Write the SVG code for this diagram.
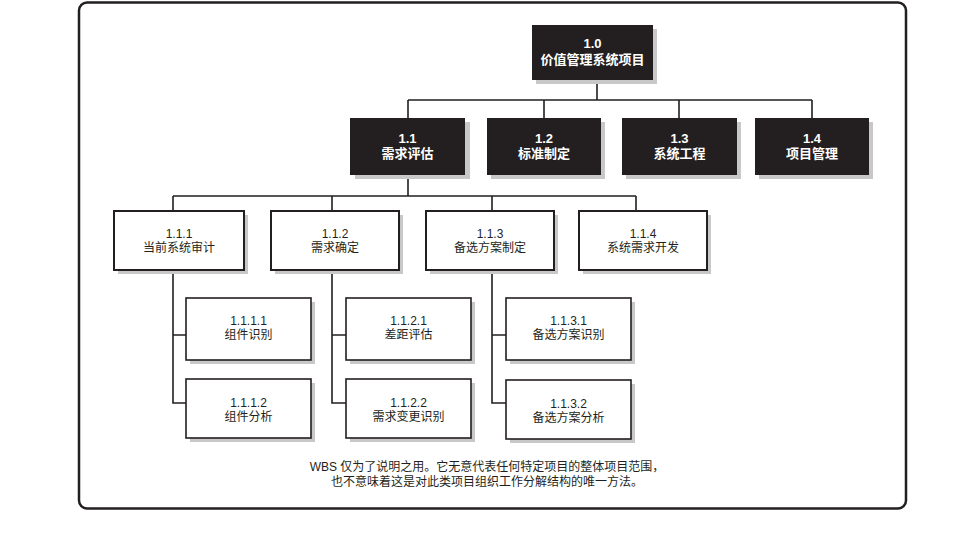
<svg xmlns="http://www.w3.org/2000/svg" width="970" height="541" viewBox="0 0 970 541">
<style>
text{font-family:"Liberation Sans","Noto Sans CJK SC",sans-serif;text-anchor:middle;font-size:12px;fill:#231f20}
.dk rect.b{fill:#231f20}
.dk text{fill:#ffffff;font-weight:bold;font-size:13px}
rect.s{fill:#c8c8c8}
.wt rect.b{fill:#ffffff;stroke:#231f20;stroke-width:2}
.lf rect.b{fill:#ffffff;stroke:#231f20;stroke-width:1.6}
#connectors path{fill:none;stroke:#231f20;stroke-width:1.6}
</style>
<rect x="79" y="2.5" width="827" height="506" rx="8" fill="#ffffff" stroke="#231f20" stroke-width="2.5"/>
<g id="connectors">
<path d="M597 80V100M408 100H812M408 100V118M544 100V118M679 100V118M812 100V118"/>
<path d="M408 175V196M173 196H636M173 196V211M332 196V211M492 196V211M636 196V211"/>
<path d="M173 270V403H186M173 335H186"/>
<path d="M332 270V403H346M332 335H346"/>
<path d="M492 270V403H506M492 335H506"/>
</g>
<g id="n1_0" class="dk"><rect class="s" x="536" y="29" width="121" height="55"/><rect class="b" x="532" y="25" width="121" height="55"/><text x="592.5" y="48">1.0</text><text x="592.5" y="64">价值管理系统项目</text></g>
<g id="n1_1" class="dk"><rect class="s" x="355" y="122" width="115" height="57"/><rect class="b" x="350" y="118" width="115" height="57"/><text x="407.5" y="143">1.1</text><text x="407.5" y="158">需求评估</text></g>
<g id="n1_2" class="dk"><rect class="s" x="491" y="122" width="114" height="57"/><rect class="b" x="487" y="118" width="114" height="57"/><text x="544" y="143">1.2</text><text x="544" y="158">标准制定</text></g>
<g id="n1_3" class="dk"><rect class="s" x="626" y="122" width="115" height="57"/><rect class="b" x="622" y="118" width="115" height="57"/><text x="679.5" y="143">1.3</text><text x="679.5" y="158">系统工程</text></g>
<g id="n1_4" class="dk"><rect class="s" x="759" y="122" width="114" height="57"/><rect class="b" x="755" y="118" width="114" height="57"/><text x="812" y="143">1.4</text><text x="812" y="158">项目管理</text></g>
<g id="n1_1_1" class="wt"><rect class="s" x="118" y="215" width="130" height="59"/><rect class="b" x="114" y="211" width="130" height="59"/><text x="179" y="238">1.1.1</text><text x="179" y="252">当前系统审计</text></g>
<g id="n1_1_2" class="wt"><rect class="s" x="275" y="215" width="128" height="59"/><rect class="b" x="271" y="211" width="128" height="59"/><text x="335" y="238">1.1.2</text><text x="335" y="252">需求确定</text></g>
<g id="n1_1_3" class="wt"><rect class="s" x="430" y="215" width="128" height="59"/><rect class="b" x="426" y="211" width="128" height="59"/><text x="490" y="238">1.1.3</text><text x="490" y="252">备选方案制定</text></g>
<g id="n1_1_4" class="wt"><rect class="s" x="583" y="215" width="128" height="59"/><rect class="b" x="579" y="211" width="128" height="59"/><text x="643" y="238">1.1.4</text><text x="643" y="252">系统需求开发</text></g>
<g id="n1_1_1_1" class="lf"><rect class="s" x="190" y="302" width="125" height="62"/><rect class="b" x="186" y="298" width="125" height="62"/><text x="248.5" y="325">1.1.1.1</text><text x="248.5" y="339">组件识别</text></g>
<g id="n1_1_1_2" class="lf"><rect class="s" x="190" y="383" width="125" height="59"/><rect class="b" x="186" y="379" width="125" height="59"/><text x="248.5" y="407">1.1.1.2</text><text x="248.5" y="421">组件分析</text></g>
<g id="n1_1_2_1" class="lf"><rect class="s" x="350" y="302" width="125" height="62"/><rect class="b" x="346" y="298" width="125" height="62"/><text x="408.5" y="325">1.1.2.1</text><text x="408.5" y="339">差距评估</text></g>
<g id="n1_1_2_2" class="lf"><rect class="s" x="350" y="383" width="125" height="59"/><rect class="b" x="346" y="379" width="125" height="59"/><text x="408.5" y="407">1.1.2.2</text><text x="408.5" y="421">需求变更识别</text></g>
<g id="n1_1_3_1" class="lf"><rect class="s" x="510" y="302" width="125" height="62"/><rect class="b" x="506" y="298" width="125" height="62"/><text x="568.5" y="325">1.1.3.1</text><text x="568.5" y="339">备选方案识别</text></g>
<g id="n1_1_3_2" class="lf"><rect class="s" x="510" y="384" width="125" height="59"/><rect class="b" x="506" y="380" width="125" height="59"/><text x="568.5" y="408">1.1.3.2</text><text x="568.5" y="422">备选方案分析</text></g>
<g id="note"><text x="487" y="471">WBS 仅为了说明之用。它无意代表任何特定项目的整体项目范围，</text><text x="487" y="486">也不意味着这是对此类项目组织工作分解结构的唯一方法。</text></g>
</svg>
